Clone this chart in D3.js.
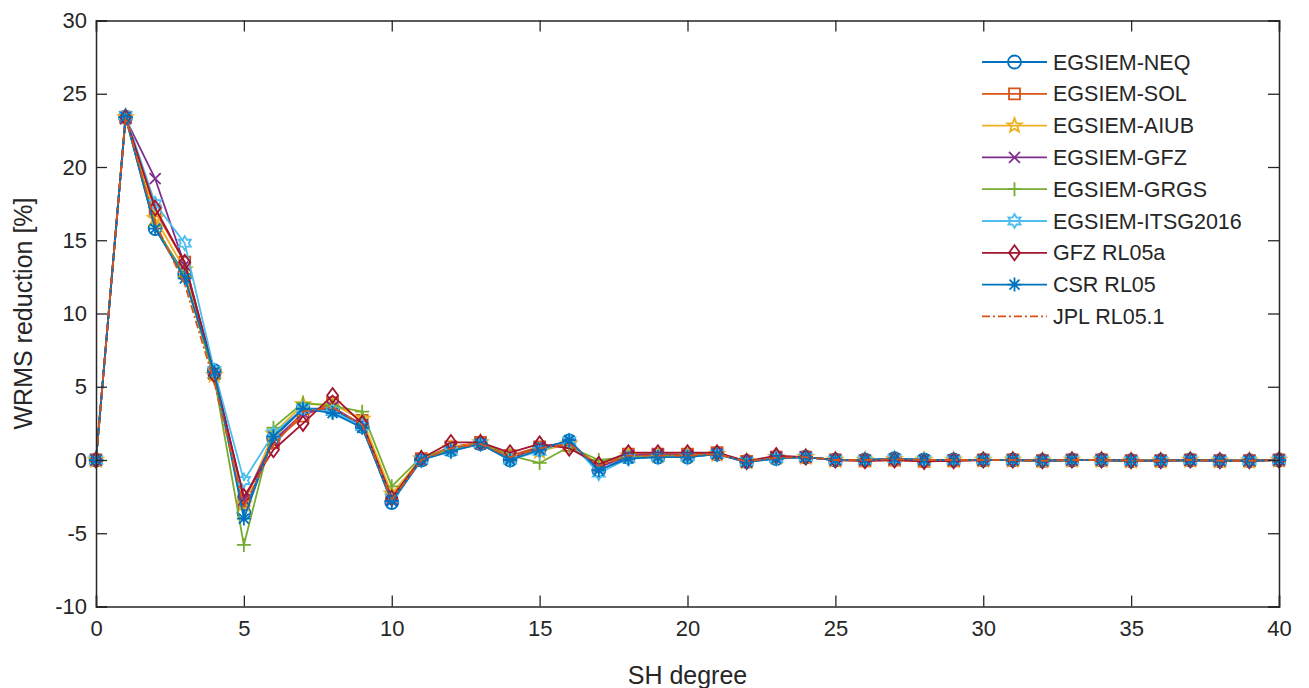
<!DOCTYPE html>
<html>
<head>
<meta charset="utf-8">
<script src="https://cdn.jsdelivr.net/npm/d3@7"></script>
<style>
  html, body { margin: 0; padding: 0; background: #fff; }
  svg { display: block; font-family: "Liberation Sans", Arial, Helvetica, sans-serif; }
</style>
</head>
<body>
<svg id="chart" width="1309" height="688"></svg>
<script>
// SH degree axis (categories)
const shDegree = d3.range(0, 41);

// WRMS reduction [%] per solution and SH degree
const egsiemNEQ = [0, 23.4, 15.8, 12.7, 6.1, -3.6, 1.5, 3.5, 3.5, 2.3, -2.9, 0.0, 0.7, 1.1, 0.0, 0.8, 1.3, -0.7, 0.2, 0.2, 0.2, 0.4, -0.1, 0.1, 0.2, 0.0, 0.0, 0.1, 0.0, 0.0, 0.0, 0.0, -0.05, 0.0, 0.0, -0.05, -0.05, 0.0, -0.05, -0.05, 0.0];
const egsiemSOL = [0, 23.4, 17.0, 13.5, 5.9, -2.8, 1.2, 3.0, 3.9, 2.7, -2.5, 0.1, 0.9, 1.2, 0.3, 0.9, 1.0, -0.4, 0.4, 0.4, 0.4, 0.5, -0.1, 0.2, 0.2, 0.0, -0.05, 0.0, -0.1, -0.05, 0.0, 0.0, -0.05, 0.0, 0.0, -0.05, -0.05, 0.0, -0.05, -0.05, 0.0];
const egsiemAIUB = [0, 23.4, 16.5, 13.0, 5.8, -3.0, 1.8, 3.8, 3.8, 2.8, -2.3, 0.1, 0.8, 1.2, 0.2, 0.6, 1.1, -0.3, 0.3, 0.3, 0.3, 0.4, -0.1, 0.2, 0.2, 0.0, 0.0, 0.05, 0.0, 0.0, 0.0, 0.0, -0.05, 0.0, 0.0, -0.05, -0.05, 0.0, -0.05, -0.05, 0.0];
const egsiemGFZ = [0, 23.3, 19.2, 13.3, 6.0, -2.7, 1.3, 3.2, 3.6, 2.4, -2.7, 0.0, 0.8, 1.1, 0.1, 0.9, 1.2, -0.5, 0.3, 0.4, 0.3, 0.4, -0.15, 0.2, 0.2, 0.0, 0.0, 0.05, 0.0, 0.0, 0.0, 0.0, -0.05, 0.0, 0.0, -0.05, -0.05, 0.0, -0.05, -0.05, 0.0];
const egsiemGRGS = [0, 23.4, 16.0, 12.5, 5.6, -5.8, 2.2, 3.9, 3.7, 3.3, -1.8, 0.2, 0.7, 1.1, 0.3, -0.2, 0.9, 0.0, 0.2, 0.3, 0.3, 0.4, -0.1, 0.2, 0.2, 0.0, 0.0, 0.05, 0.0, 0.0, 0.0, 0.0, -0.05, 0.0, 0.0, -0.05, -0.05, 0.0, -0.05, -0.05, 0.0];
const egsiemITSG2016 = [0, 23.5, 17.5, 14.8, 6.1, -1.4, 1.8, 3.5, 3.3, 2.3, -2.6, 0.0, 0.6, 1.1, 0.0, 0.6, 1.3, -0.9, 0.1, 0.2, 0.2, 0.4, -0.1, 0.1, 0.2, 0.0, 0.0, 0.1, 0.0, 0.0, 0.0, 0.0, -0.05, 0.0, 0.0, -0.05, -0.05, 0.0, -0.05, -0.05, 0.0];
const gfzRL05a = [0, 23.4, 17.2, 13.5, 5.8, -2.5, 0.7, 2.5, 4.4, 2.5, -2.6, 0.1, 1.2, 1.2, 0.5, 1.1, 0.8, -0.3, 0.5, 0.5, 0.5, 0.5, -0.1, 0.3, 0.2, 0.0, -0.05, 0.0, -0.1, -0.05, 0.0, 0.0, -0.05, 0.0, 0.0, -0.05, -0.05, 0.0, -0.05, -0.05, 0.0];
const csrRL05 = [0, 23.4, 15.8, 12.4, 6.0, -4.0, 1.6, 3.5, 3.2, 2.2, -2.8, 0.0, 0.6, 1.1, 0.0, 0.7, 1.35, -0.7, 0.1, 0.2, 0.2, 0.4, -0.15, 0.1, 0.2, 0.0, 0.0, 0.1, 0.0, 0.0, 0.0, 0.0, -0.05, 0.0, 0.0, -0.05, -0.05, 0.0, -0.05, -0.05, 0.0];
const jplRL051 = [0, 23.4, 16.2, 12.0, 5.3, -3.2, 1.0, 3.3, 3.6, 2.4, -2.7, 0.0, 0.8, 1.1, 0.2, 0.8, 1.1, -0.4, 0.3, 0.3, 0.3, 0.4, -0.1, 0.15, 0.2, 0.0, 0.0, 0.05, 0.0, 0.0, 0.0, 0.0, -0.05, 0.0, 0.0, -0.05, -0.05, 0.0, -0.05, -0.05, 0.0];

const seriesNames = ["EGSIEM-NEQ", "EGSIEM-SOL", "EGSIEM-AIUB", "EGSIEM-GFZ", "EGSIEM-GRGS", "EGSIEM-ITSG2016", "GFZ RL05a", "CSR RL05", "JPL RL05.1"];
const seriesValues = [egsiemNEQ, egsiemSOL, egsiemAIUB, egsiemGFZ, egsiemGRGS, egsiemITSG2016, gfzRL05a, csrRL05, jplRL051];
const seriesColors = ["#0072BD", "#D95319", "#EDB120", "#7E2F8E", "#77AC30", "#4DBEEE", "#A2142F", "#0072BD", "#D95319"];
const seriesMarkers = ["circle", "square", "pentagram", "x", "plus", "hexagram", "diamond", "asterisk", "none"];
const seriesDash = [null, null, null, null, null, null, null, null, "8,3,2,3"];

const xTicks = [0, 5, 10, 15, 20, 25, 30, 35, 40];
const yTicks = [-10, -5, 0, 5, 10, 15, 20, 25, 30];

// layout
const plot = { left: 96, right: 1279, top: 20.5, bottom: 606.5 };
const ink = "#262626";
const lineW = 1.8;

const svg = d3.select("#chart");
const x = d3.scaleLinear().domain([0, 40]).range([plot.left, plot.right]);
const y = d3.scaleLinear().domain([-10, 30]).range([plot.bottom, plot.top]);

// marker path builders (centered at 0,0)
function starPath(points, rOuter, rInner, rot) {
  const pts = [];
  for (let i = 0; i < points * 2; i++) {
    const r = i % 2 === 0 ? rOuter : rInner;
    const a = rot + i * Math.PI / points;
    pts.push([r * Math.sin(a), -r * Math.cos(a)]);
  }
  return "M" + pts.map(p => p[0].toFixed(2) + "," + p[1].toFixed(2)).join("L") + "Z";
}
function markerPath(kind) {
  switch (kind) {
    case "circle": return d3.symbol(d3.symbolCircle, Math.PI * 6.5 * 6.5)();
    case "square": return "M-5.5,-5.5L5.5,-5.5L5.5,5.5L-5.5,5.5Z";
    case "pentagram": return starPath(5, 7.5, 3.1, 0);
    case "hexagram": return starPath(6, 7, 4, 0);
    case "diamond": return "M0,-7.5L5.5,0L0,7.5L-5.5,0Z";
    case "x": return "M-5.5,-5.5L5.5,5.5M-5.5,5.5L5.5,-5.5";
    case "plus": return "M-7,0L7,0M0,-7L0,7";
    case "asterisk": return "M-7,0L7,0M0,-7L0,7M-5,-5L5,5M-5,5L5,-5";
    default: return null;
  }
}

const line = d3.line().x((d, i) => x(shDegree[i])).y(d => y(d));

// data lines with their markers, drawn series by series
const dataG = svg.append("g");
seriesValues.forEach((vals, s) => {
  const g = dataG.append("g");
  g.append("path")
    .attr("d", line(vals))
    .attr("fill", "none")
    .attr("stroke", seriesColors[s])
    .attr("stroke-width", lineW)
    .attr("stroke-linejoin", "round")
    .attr("stroke-dasharray", seriesDash[s]);
  const mp = markerPath(seriesMarkers[s]);
  if (mp) {
    g.selectAll("path.m")
      .data(vals)
      .join("path")
      .attr("class", "m")
      .attr("d", mp)
      .attr("transform", (d, i) => `translate(${x(shDegree[i])},${y(d)})`)
      .attr("fill", "none")
      .attr("stroke", seriesColors[s])
      .attr("stroke-width", lineW);
  }
});

// box axes with mirrored inward ticks; plain hyphen for negatives
const tickLen = 11;
const tickFont = "22px";
const fmt = d => String(d);
const axisG = svg.append("g");
const xAxisB = d3.axisBottom(x).tickValues(xTicks).tickSize(-tickLen).tickPadding(14).tickFormat(fmt);
const xAxisT = d3.axisTop(x).tickValues(xTicks).tickSize(-tickLen).tickFormat("");
const yAxisL = d3.axisLeft(y).tickValues(yTicks).tickSize(-tickLen).tickPadding(9).tickFormat(fmt);
const yAxisR = d3.axisRight(y).tickValues(yTicks).tickSize(-tickLen).tickFormat("");

function styleAxis(g) {
  g.selectAll(".domain").attr("stroke", ink).attr("stroke-width", 1.5);
  g.selectAll(".tick line").attr("stroke", ink).attr("stroke-width", 1.3);
  g.selectAll(".tick text").attr("fill", ink).style("font-size", tickFont)
    .style("font-family", '"Liberation Sans", Arial, sans-serif');
}
axisG.append("g").attr("transform", `translate(0,${plot.bottom})`).call(xAxisB).call(styleAxis);
axisG.append("g").attr("transform", `translate(0,${plot.top})`).call(xAxisT).call(styleAxis);
axisG.append("g").attr("transform", `translate(${plot.left},0)`).call(yAxisL).call(styleAxis);
axisG.append("g").attr("transform", `translate(${plot.right},0)`).call(yAxisR).call(styleAxis);

// axis labels
svg.append("text")
  .attr("x", (plot.left + plot.right) / 2)
  .attr("y", 684)
  .attr("text-anchor", "middle")
  .attr("fill", ink)
  .style("font-size", "25px")
  .text("SH degree");
svg.append("text")
  .attr("transform", `translate(32,${(plot.top + plot.bottom) / 2}) rotate(-90)`)
  .attr("text-anchor", "middle")
  .attr("fill", ink)
  .style("font-size", "25px")
  .text("WRMS reduction [%]");

// legend
const legend = svg.append("g");
const legX0 = 982, legX1 = 1047, legText = 1053, legY0 = 62, legDy = 31.8;
seriesNames.forEach((name, s) => {
  const yy = legY0 + s * legDy;
  const g = legend.append("g");
  g.append("line")
    .attr("x1", legX0).attr("x2", legX1).attr("y1", yy).attr("y2", yy)
    .attr("stroke", seriesColors[s]).attr("stroke-width", lineW)
    .attr("stroke-dasharray", seriesDash[s]);
  const mp = markerPath(seriesMarkers[s]);
  if (mp) {
    g.append("path").attr("d", mp)
      .attr("transform", `translate(${(legX0 + legX1) / 2},${yy})`)
      .attr("fill", "none").attr("stroke", seriesColors[s]).attr("stroke-width", lineW);
  }
  g.append("text")
    .attr("x", legText).attr("y", yy).attr("dy", "0.35em")
    .attr("fill", ink)
    .style("font-size", "21.5px")
    .text(name);
});
</script>
</body>
</html>
